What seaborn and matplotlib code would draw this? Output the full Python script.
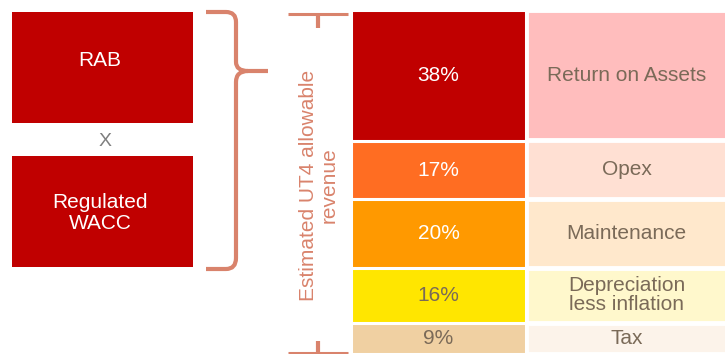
import matplotlib
matplotlib.use("Agg")
import matplotlib.pyplot as plt
from matplotlib.patches import Rectangle, PathPatch
from matplotlib.path import Path
import numpy as np
import pandas as pd
import seaborn as sns

# ---- data ----
components = ["Return on Assets", "Opex", "Maintenance", "Depreciation\nless inflation", "Tax"]
shares = [38, 17, 20, 16, 9]
share_labels = ["38%", "17%", "20%", "16%", "9%"]
left_boxes = ["RAB", "Regulated\nWACC"]
operator_text = "X"
axis_title = "Estimated UT4 allowable\nrevenue"

# ---- styles ----
bar_colors = ["#C00000", "#FF6D22", "#FF9900", "#FFE600", "#F0D0A2"]
box_colors = ["#FFBDBD", "#FFE0D3", "#FFE8CC", "#FFF8CC", "#FCF3EA"]
value_text_colors = ["white", "white", "white", "#7A6A58", "#7A6A58"]
grey_text = "#7A6A58"
salmon = "#D9836C"
dark_red = "#C00000"

sns.set_theme(style="white")
plt.rcParams["font.family"] = ["Liberation Sans", "DejaVu Sans"]

W, H = 725, 354
fig = plt.figure(figsize=(W / 100, H / 100), dpi=100)

# overlay axes in pixel coordinates
ov = fig.add_axes([0, 0, 1, 1])
ov.set_xlim(0, W)
ov.set_ylim(H, 0)
ov.axis("off")

# left boxes
box_y = [(12, 123), (156, 267)]
text_y = [61, 213]
for lab, (y0, y1), ty in zip(left_boxes, box_y, text_y):
    ov.add_patch(Rectangle((12, y0), 181, y1 - y0, facecolor=dark_red, edgecolor="none"))
    ov.text(100, ty, lab, color="white", fontsize=15, ha="center", va="center",
            linespacing=1.15)
ov.text(105, 142, operator_text, color="#7F7F7F", fontsize=14, ha="center", va="center")

# curly brace
verts = [(206, 12), (226, 12), (236, 12), (236, 22), (236, 62), (236, 71), (248, 71), (268, 71),
         (248, 71), (236, 71), (236, 82), (236, 258), (236, 269), (226, 269), (206, 269)]
codes = [Path.MOVETO, Path.LINETO, Path.CURVE3, Path.CURVE3, Path.LINETO, Path.CURVE3, Path.CURVE3,
         Path.LINETO, Path.MOVETO, Path.CURVE3, Path.CURVE3, Path.LINETO, Path.CURVE3, Path.CURVE3,
         Path.LINETO]
ov.add_patch(PathPatch(Path(verts, codes), facecolor="none", edgecolor=salmon, lw=3,
                       capstyle="butt", joinstyle="round"))

# bracket
ov.plot([288, 348], [14, 14], color=salmon, lw=2.2, solid_capstyle="butt")
ov.plot([318, 318], [14, 28], color=salmon, lw=3, solid_capstyle="butt")
ov.plot([288, 348], [353, 353], color=salmon, lw=2.2, solid_capstyle="butt")
ov.plot([318, 318], [341, 353], color=salmon, lw=3, solid_capstyle="butt")
ov.text(319, 185, axis_title, rotation=90, color=salmon, fontsize=15, ha="center", va="center",
        multialignment="center", linespacing=1.15)

# data frame for stacked bars (cumulative, drawn largest first)
cum = np.cumsum(shares)
df = pd.DataFrame({"col": ["share"] * len(components), "component": components, "cum": cum})
order = components[::-1]

def stacked_axes(x0, x1, palette, lw):
    pad = lw * 100 / 72 / 2
    ax = fig.add_axes([(x0 - pad) / W, 0, (x1 - x0 + 2 * pad) / W, (H - 12 + pad) / H])
    sns.barplot(data=df, x="col", y="cum", hue="component", hue_order=order,
                palette=dict(zip(components, palette)), dodge=False, width=1,
                saturation=1, edgecolor="white", linewidth=lw, errorbar=None,
                legend=False, ax=ax)
    ax.set_xlim(-0.5, 0.5)
    ax.set_ylim(100, 0)
    ax.axis("off")
    return ax

ax1 = stacked_axes(353, 524, bar_colors, 2.2)
ax2 = stacked_axes(528, 725, box_colors, 3.5)

centers = cum - np.array(shares) / 2
for c, lab, tc in zip(centers, share_labels, value_text_colors):
    ax1.text(0, c, lab, color=tc, fontsize=15, ha="center", va="center")
for c, lab in zip(centers, components):
    ax2.text(0, c, lab, color=grey_text, fontsize=15, ha="center", va="center", linespacing=1.0)

fig.savefig("out.png", dpi=100)
